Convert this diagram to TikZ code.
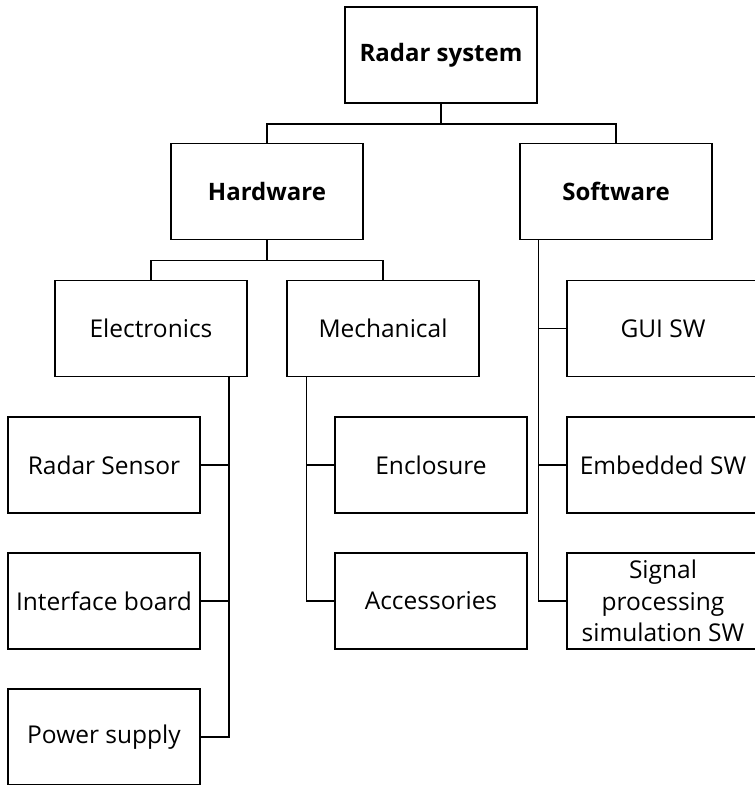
\documentclass[tikz,border=0pt]{standalone}
\usepackage{fontspec}
\setmainfont{Open Sans}
\usetikzlibrary{calc}
\begin{document}
\begin{tikzpicture}[x=1pt,y=-1pt,
  box/.style={draw,line width=1.5pt,minimum width=192pt,minimum height=96pt,inner sep=0pt,align=center,
    font=\fontsize{24.5}{31.5}\selectfont},
  topbox/.style={box,font=\fontsize{24}{31.5}\selectfont\bfseries},
  conn/.style={line width=1.5pt}]
\useasboundingbox (0,0) rectangle (755,785);
\clip (0,0) rectangle (755,785);
\node[topbox] (rs) at (441,55) {Radar system};
\node[topbox] (hw) at (267,191.5) {Hardware};
\node[topbox] (sw) at (616,191.5) {Software};
\node[box] (el) at (151,328.5) {Electronics};
\node[box] (me) at (383,328.5) {Mechanical};
\node[box] (gui) at (663,328.5) {GUI SW};
\node[box] (sen) at (104,465) {Radar Sensor};
\node[box] (enc) at (431,465) {Enclosure};
\node[box] (emb) at (663,465) {Embedded SW};
\node[box] (ifb) at (104,601) {Interface board};
\node[box] (acc) at (431,601) {Accessories};
\node[box] (sig) at (663,601) {Signal\\processing\\simulation SW};
\node[box] (pwr) at (104,737) {Power supply};
% tree connectors
\draw[conn] (rs.south) -- ++(0,20) -| (hw.north);
\draw[conn] (rs.south) -- ++(0,20) -| (sw.north);
\draw[conn] (hw.south) -- ++(0,20) -| (el.north);
\draw[conn] (hw.south) -- ++(0,20) -| (me.north);
% electronics
\coordinate (eb) at ($(el.south east)+(-19,0)$);
\draw[conn] (eb) |- (pwr.east);
\draw[conn] (eb |- sen.east) -- (sen.east);
\draw[conn] (eb |- ifb.east) -- (ifb.east);
% mechanical
\coordinate (mb) at ($(me.south west)+(20,0)$);
\draw[conn] (mb) |- (acc.west);
\draw[conn] (mb |- enc.west) -- (enc.west);
% software
\coordinate (sb) at ($(sw.south west)+(19,0)$);
\draw[conn] (sb) |- (sig.west);
\draw[conn] (sb |- gui.west) -- (gui.west);
\draw[conn] (sb |- emb.west) -- (emb.west);
\end{tikzpicture}
\end{document}
